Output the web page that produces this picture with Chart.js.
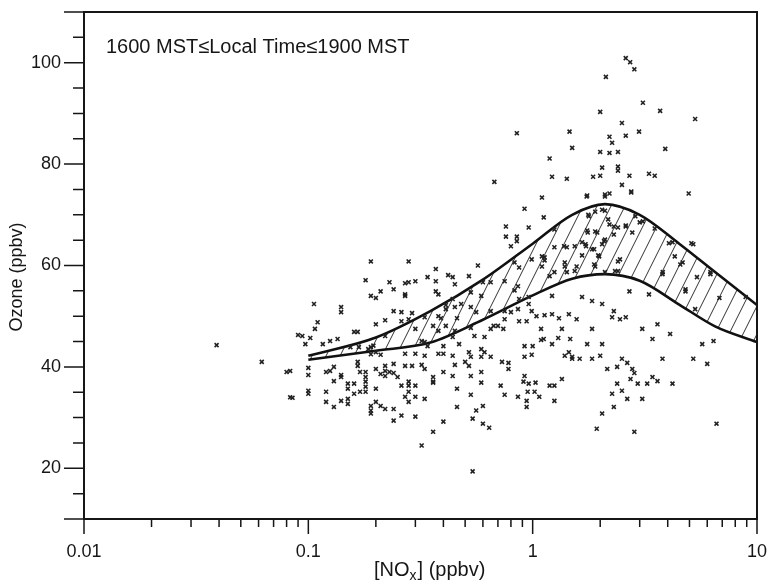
<!DOCTYPE html>
<html>
<head>
<meta charset="utf-8">
<script src="https://cdn.jsdelivr.net/npm/chart.js@4/dist/chart.umd.min.js"></script>
<style>
  html, body { margin: 0; padding: 0; background: #fff; }
  #wrap { width: 768px; height: 585px; }
</style>
</head>
<body>
<div id="wrap"><canvas id="c" width="768" height="585"></canvas></div>
<script>
// --- data ---
const panelTitle = '1600 MST\u2264Local Time\u22641900 MST';
const xTitle = ['[NO', 'x', '] (ppbv)'];
const yTitle = 'Ozone (ppbv)';

const xTickValues = [0.01, 0.1, 1, 10];
const xTickLabels = ['0.01', '0.1', '1', '10'];
const xMinorTicks = [0.02, 0.03, 0.04, 0.05, 0.06, 0.07, 0.08, 0.09,
                     0.2, 0.3, 0.4, 0.5, 0.6, 0.7, 0.8, 0.9,
                     2, 3, 4, 5, 6, 7, 8, 9];
const yTickValues = [20, 40, 60, 80, 100];
const yMinorTicks = [15, 25, 30, 35, 45, 50, 55, 65, 70, 75, 85, 90, 95, 105];
const yEdgeTicks = [10, 110];

// band limits (model range)
const curveNOx = [0.1, 0.2, 0.35, 0.6, 1.0, 1.5, 2.1, 3.0, 4.5, 6.5, 10];
const upperO3  = [42.2, 45.8, 51.0, 57.2, 64.3, 70.0, 72.1, 70.0, 64.3, 58.7, 52.2];
const lowerO3  = [41.4, 43.2, 44.8, 49.3, 54.1, 57.4, 58.3, 57.0, 52.3, 48.0, 44.9];

// observations [NOx, O3]
const observations = [
  [0.039,44.3],[0.062,41],[0.083,39.2],[0.083,34],[0.08,39],[0.085,33.9],[0.54,19.4],
  [0.85,86.1],[1.46,86.4],[2.0,90.3],[3.7,90.5],[5.3,88.9],[2.5,88.1],[2.98,86.4],[2.2,85.4],
  [2.6,85.6],[2.26,84.2],[1.5,83.2],[3.9,83],[2.0,82.4],[2.4,82.4],[2.2,82.2],[1.19,81.1],
  [2.04,79.3],[2.4,79.5],[2.4,78.7],[1.22,77.5],[1.42,77.1],[1.86,77.5],[2.0,77.7],[2.7,77.7],
  [3.3,78.1],[3.5,77.7],[0.675,76.5],[2.5,75.9],[2.75,74.6],[4.96,74.2],[1.1,73.4],[1.74,73.6],
  [2.1,73.6],[2.2,74.2],[0.92,71.2],[1.12,69.5],[0.76,67.7],[0.96,67.5],[0.76,65.7],[0.85,65.7],
  [0.85,64.8],[0.28,60.8],[0.37,59.3],[0.23,56.7],[0.28,56.7],[0.3,56.9],[0.34,57.7],[0.42,58.1],
  [0.44,57.7],[0.52,57.9],[0.57,60],[0.37,54.9],[0.27,54],[5.2,64.2],[4.3,61.8],[4.66,60.6],
  [3.8,58.7],[4.8,54.9],[6.2,58.3],[8.9,53.8],[2.7,54.9],[3.3,54.3],[2.4,60.8],[2.4,58.9],[4.2,64.6],
  [2.6,100.9],[2.72,100.1],[2.84,98.7],[2.12,97.2],[3.1,92.1],
  [1.25,67.1],[1.38,63.8],[1.42,63.6],[1.54,63.8],[1.66,64.6],[1.73,63.8],[1.84,63.2],[2.04,64.2],
  [2.1,65.1],[1.96,62],[1.66,62],[1.57,59.8],[1.9,59.8],[1.13,61.6],[1.1,59.8],[0.83,60.6],
  [0.87,59.6],[0.99,61.2],[1.19,57.9],[1.42,58.7],[1.54,58.9],[2.6,67.7],[2.4,67.5],[2.3,66.1],
  [1.9,66.7],[1.76,66.5],[2.2,68.1],[2.17,69.1],[1.78,69.7],[2.04,71],[3.0,68.5],[2.87,69.7],[4.55,60.2],
  [1.75,73.8],[2.1,74],[2.75,74.4],[1.77,70],[1.9,70.6],[2.1,70.8],[1.75,66.9],[1.94,66.5],
  [2.3,67.7],[2.6,67.9],[2.78,66.5],[3.1,68.7],[3.5,67.3],[1.72,64.2],[1.88,63.2],[2.08,64.8],
  [1.98,61.8],[2.45,61.2],[1.88,60.2],[2.33,58.9],[2.1,58.7],[4.05,64.4],[3.79,58.3],[1.39,59.8],
  [5.1,64.4],[5.4,57.7],[6.2,58.7],[6.8,53.6],[5.3,51.4],[4.8,55.3],
  [0.19,60.8],[0.18,57.1],[0.27,56.5],[0.37,56.9],[0.65,56.7],[0.8,63.8],[0.21,54.9],[0.24,55.3],
  [0.19,54],[0.2,53.6],[0.27,54.3],[0.38,54.3],[0.45,56.3],[0.53,54.7],[0.6,56.7],[0.75,56.9],
  [0.86,55.9],[0.83,55.1],[0.96,53.8],[1.1,61.8],[1.13,61],[1.25,63.6],[1.39,60.6],[1.25,58.7],[1.22,54],
  [0.106,52.4],[0.14,51.8],[0.14,50.8],[0.11,48.8],[0.107,47.5],[0.094,46.1],[0.09,46.3],[0.097,44.5],
  [0.102,45.7],[0.116,44.5],[0.125,45.1],[0.135,45.5],[0.16,46.9],[0.166,46.9],[0.154,43.9],[0.168,43.9],
  [0.19,43.9],[0.2,42.9],[0.22,46.1],[0.2,48.4],[0.22,49.2],[0.24,51],[0.26,49],[0.26,50.8],
  [0.29,50.6],[0.28,49.4],[0.3,47.5],[0.33,49.8],[0.38,50],[0.39,49.6],[0.36,48.1],[0.32,45.1],
  [0.38,47.1],[0.33,44.9],[0.34,44.1],[0.41,52.2],[0.41,51.4],[0.41,48.1],[0.44,45.9],[0.44,53.4],
  [0.45,51.8],[0.48,52.4],[0.53,51.8],[0.56,50.8],[0.59,54],[0.46,49.6],[0.53,47.7],[0.55,46.1],
  [0.65,47.5],[0.67,48.1],[0.7,48.1],[0.75,51],[0.8,50.8],[0.86,51.4],[0.65,51],[0.87,53.4],
  [0.96,52.4],[0.99,51],[1.04,50],[1.09,47.5],[1.13,50.2],[1.22,50.4],[1.31,49.6],[1.3,45.7],
  [1.45,50.4],[1.47,45.5],[1.39,42.2],[1.45,42.9],[1.5,42],[1.35,37.6],[1.25,36.3],[1.25,33.3],
  [1.03,36.9],[1.09,45.3],[1.0,44.1],[0.99,42.4],[0.92,44.1],[0.92,38.2],[0.96,36.7],[0.95,35.1],
  [0.86,34.1],[0.75,34.5],[0.78,39.6],[0.78,40.8],[0.73,41],[0.72,36.3],[0.65,42],[0.61,42.9],
  [0.59,43.5],[0.59,42],[0.53,42],[0.53,38.2],[0.59,39],[0.59,36.9],[0.53,34.5],[0.56,31.4],
  [0.6,32.3],[0.6,28.8],[0.64,28],[0.54,29.8],[0.46,35.7],[0.46,32.1],[0.44,38.2],[0.45,40.4],
  [0.44,42.2],[0.4,42.6],[0.4,39],[0.36,37.1],[0.36,36.9],[0.33,33.7],[0.4,29.2],[0.36,27.2],
  [0.32,24.5],[0.3,30.2],[0.28,35.1],[0.28,36.3],[0.27,34.1],[0.28,33.1],[0.3,34.1],[0.3,36.3],
  [0.26,36.3],[0.25,38],[0.24,31.7],[0.24,29.4],[0.26,30.4],[0.22,31.7],[0.21,32.3],[0.19,32.3],
  [0.19,31.4],[0.19,30.8],[0.2,33.1],[0.17,35.1],[0.18,36.1],[0.18,37.1],[0.2,35.7],[0.18,35.1],
  [0.16,36.7],[0.15,35.7],[0.16,34.7],[0.15,33.7],[0.15,32.7],[0.14,33.3],[0.13,32.1],[0.12,33.1],
  [0.12,35.1],[0.1,35.3],[0.1,34.7],[0.1,39.8],[0.1,38.4],[0.12,39],[0.13,37.2],[0.14,38.4],
  [0.14,38],[0.15,36.7],[0.166,41],[0.166,40.2],[0.17,39],[0.18,39],[0.2,39.6],[0.21,38.6],
  [0.22,39.2],[0.22,38.2],[0.23,39],[0.24,38.8],[0.22,40.2],[0.24,40.6],[0.27,42.6],[0.27,40.2],
  [0.3,42.6],[0.29,40.2],[0.32,40.4],[0.33,39.6],[0.33,42.2],[0.38,42.6],[0.36,38],[0.28,37.1],
  [0.52,40.2],[0.5,41],[0.52,42.9],[0.47,44.5],[0.4,44.1],[0.45,47.1],[0.61,45.9],[0.74,47.5],
  [0.75,49.4],[0.87,49],[0.94,49],[1.12,45.5],[0.92,42],[0.91,37.1],[1.02,35.1],[1.07,34.1],
  [0.94,33.3],[0.94,32.1],[1.19,36.3],
  [0.21,42.4],[0.13,40],[0.125,39.2],[0.18,38],[0.185,43.5],[0.195,44.2],[0.19,42.5],
  [1.66,53.8],[1.84,53],[2.04,52.4],[2.3,51],[2.45,49.4],[2.6,49.8],[3.08,47.5],[3.6,48.4],
  [4.1,46.5],[1.84,47.5],[2.04,44.5],[2.26,49.8],[1.57,49.4],[1.75,44.5],[1.5,41.6],[1.62,41.6],
  [1.84,41.6],[2.0,42.2],[2.15,39.6],[2.38,40],[2.5,41.6],[2.64,40.8],[2.78,39.6],[2.84,38.8],
  [2.73,37.6],[2.38,36.7],[2.5,35.3],[2.94,36.7],[3.24,36.7],[3.42,38],[3.6,37.2],[3.08,33.7],
  [2.64,33.7],[2.26,34.7],[2.04,30.8],[2.3,32.1],[2.84,27.2],[1.93,27.8],[3.79,41.6],[4.2,36.7],
  [5.2,41.6],[6.0,40.6],[5.7,44.5],[6.4,45.1],[6.6,28.8],[3.42,45.5],[1.35,47.5],[1.22,44.5]
];

const FONT = '"Liberation Sans", Arial, Helvetica, sans-serif';
const INK = '#161616';

const canvas = document.getElementById('c');
const ctx = canvas.getContext('2d');

// diagonal hatch for the band between the two curves
function makeHatch() {
    const w = 14, h = 28;
    const tile = document.createElement('canvas');
    tile.width = w; tile.height = h;
    const g = tile.getContext('2d');
    g.strokeStyle = '#333';
    g.lineWidth = 1;
    g.beginPath();
    [-w, 0, w].forEach(dx => { g.moveTo(dx, h); g.lineTo(dx + w, 0); });
    g.stroke();
    return ctx.createPattern(tile, 'repeat');
}

// frame, tick marks and text drawn on top of the library's scales
const decorations = {
    id: 'decorations',
    afterDraw(chart) {
        const c = chart.ctx;
        const xs = chart.scales.x, ys = chart.scales.y;
        const a = chart.chartArea;
        c.save();
        c.strokeStyle = INK;
        c.lineWidth = 2;
        c.strokeRect(a.left, a.top, a.right - a.left, a.bottom - a.top);

        c.lineWidth = 1.5;
        c.beginPath();
        xTickValues.forEach(v => { const p = xs.getPixelForValue(v); c.moveTo(p, a.bottom); c.lineTo(p, a.bottom + 15); });
        xMinorTicks.forEach(v => { const p = xs.getPixelForValue(v); c.moveTo(p, a.bottom); c.lineTo(p, a.bottom + 8); });
        yTickValues.concat(yEdgeTicks).forEach(v => { const p = ys.getPixelForValue(v); c.moveTo(a.left, p); c.lineTo(a.left - 20, p); });
        yMinorTicks.forEach(v => { const p = ys.getPixelForValue(v); c.moveTo(a.left, p); c.lineTo(a.left - 11, p); });
        c.stroke();

        c.fillStyle = INK;
        c.textBaseline = 'alphabetic';
        c.textAlign = 'left';
        c.font = '20px ' + FONT;
        c.fillText(panelTitle, a.left + 22, 53);

        // x title with subscript
        let x = 374;
        const base = 576;
        c.font = '20px ' + FONT;
        c.fillText(xTitle[0], x, base); x += c.measureText(xTitle[0]).width;
        c.font = '14px ' + FONT;
        c.fillText(xTitle[1], x, base + 4); x += c.measureText(xTitle[1]).width + 1;
        c.font = '20px ' + FONT;
        c.fillText(xTitle[2], x, base);

        // y title
        c.translate(17, 277);
        c.rotate(-Math.PI / 2);
        c.textAlign = 'center';
        c.textBaseline = 'middle';
        c.font = '18px ' + FONT;
        c.fillText(yTitle, 0, 0);
        c.restore();
    }
};

new Chart(ctx, {
    type: 'scatter',
    data: {
        datasets: [
            {
                label: 'observations',
                data: observations.map(p => ({ x: p[0], y: p[1] })),
                pointStyle: 'crossRot',
                pointRadius: 2.8,
                pointBorderWidth: 1.6,
                borderColor: '#222',
                backgroundColor: '#222',
                order: 0
            },
            {
                type: 'line',
                label: 'upper',
                data: curveNOx.map((v, i) => ({ x: v, y: upperO3[i] })),
                borderColor: '#111',
                borderWidth: 2.6,
                pointRadius: 0,
                cubicInterpolationMode: 'monotone',
                fill: false,
                order: 1
            },
            {
                type: 'line',
                label: 'lower',
                data: curveNOx.map((v, i) => ({ x: v, y: lowerO3[i] })),
                borderColor: '#111',
                borderWidth: 2.6,
                pointRadius: 0,
                cubicInterpolationMode: 'monotone',
                fill: '-1',
                backgroundColor: makeHatch(),
                order: 1
            }
        ]
    },
    options: {
        responsive: false,
        devicePixelRatio: 1,
        animation: false,
        layout: { padding: { top: 12, right: 11, left: 0, bottom: 0 } },
        plugins: {
            legend: { display: false },
            tooltip: { enabled: false }
        },
        scales: {
            x: {
                type: 'logarithmic',
                min: 0.01,
                max: 10,
                grid: { display: false, drawTicks: false },
                border: { display: false },
                afterBuildTicks: s => { s.ticks = xTickValues.map(v => ({ value: v })); },
                afterFit: s => {
                    s.height = 66;
                    s.paddingLeft = 0; s.paddingRight = 0;
                },
                ticks: {
                    autoSkip: false,
                    maxRotation: 0,
                    padding: 22,
                    color: INK,
                    font: { size: 18, family: FONT },
                    callback: (v) => xTickLabels[xTickValues.indexOf(v)] || ''
                }
            },
            y: {
                min: 10,
                max: 110,
                grid: { display: false, drawTicks: false },
                border: { display: false },
                afterBuildTicks: s => { s.ticks = yTickValues.map(v => ({ value: v })); },
                afterFit: s => {
                    s.width = 84;
                    s.paddingTop = 0; s.paddingBottom = 0;
                },
                ticks: {
                    padding: 23,
                    color: INK,
                    font: { size: 18, family: FONT },
                    callback: (v) => String(v)
                }
            }
        }
    },
    plugins: [decorations]
});
</script>
</body>
</html>
